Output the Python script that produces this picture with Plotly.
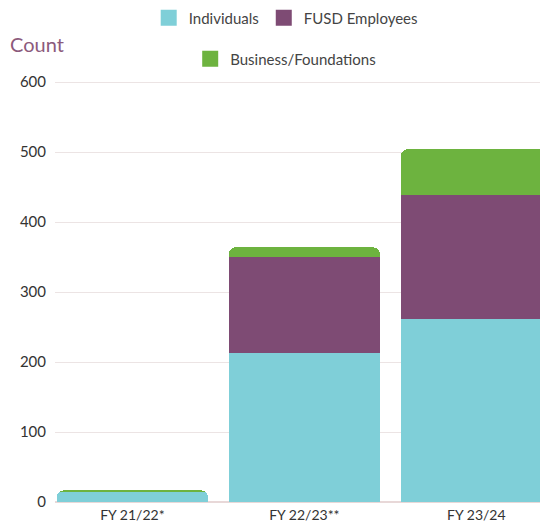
import plotly.graph_objects as go

categories = ["FY 21/22*", "FY 22/23**", "FY 23/24"]
individuals = [14, 213, 261]
fusd_employees = [0, 137, 178]
business_foundations = [3, 14, 65]
y_ticks = [0, 100, 200, 300, 400, 500, 600]

C_IND = "#7fcfd8"
C_EMP = "#7e4b74"
C_BUS = "#6db33f"
FONT = "Lato, 'Open Sans', sans-serif"

fig = go.Figure()
fig.add_bar(x=categories, y=individuals, name="Individuals", marker_color=C_IND,
            marker_line_width=0, showlegend=False)
fig.add_bar(x=categories, y=fusd_employees, name="FUSD Employees", marker_color=C_EMP,
            marker_line_width=0, showlegend=False)
fig.add_bar(x=categories, y=business_foundations, name="Business/Foundations",
            marker_color=C_BUS, marker_line_width=0, showlegend=False)

# legend entries with larger square swatches
for name, col, leg in [("Individuals", C_IND, "legend"),
                       ("FUSD Employees", C_EMP, "legend"),
                       ("Business/Foundations", C_BUS, "legend2")]:
    fig.add_scatter(x=[None], y=[None], mode="markers", name=name, legend=leg,
                    marker=dict(symbol="square", size=16, color=col))

# page has an 8px body margin, so the figure is sized to fit without overflow
fig.update_layout(
    barmode="stack",
    bargap=0.12,
    barcornerradius=7,
    width=532, height=516,
    margin=dict(l=47, r=0, t=67, b=19, autoexpand=False),
    paper_bgcolor="white", plot_bgcolor="white",
    font=dict(family=FONT, size=15, color="#333333"),
    legend=dict(orientation="h", x=0.522, xanchor="center", xref="container",
                y=0.9806, yanchor="middle", yref="container",
                font=dict(size=15, color="#444444"), itemsizing="trace",
                traceorder="normal", bgcolor="rgba(0,0,0,0)"),
    legend2=dict(orientation="h", x=0.522, xanchor="center", xref="container",
                 y=0.901, yanchor="middle", yref="container",
                 font=dict(size=15, color="#444444"), itemsizing="trace",
                 bgcolor="rgba(0,0,0,0)"),
    showlegend=True,
)
fig.add_annotation(text="Count", xref="paper", yref="paper",
                   x=-0.0969, y=1.072, xanchor="left", yanchor="middle",
                   showarrow=False, font=dict(size=20, color="#8c5a7c", family=FONT))

fig.update_xaxes(range=[-0.45, 2.37], showgrid=False, showline=False, ticks="",
                 tickfont=dict(size=14, color="#333333"))
fig.update_yaxes(range=[-4, 610], tickvals=y_ticks, showgrid=True,
                 gridcolor="#ece4e4", gridwidth=1, zeroline=True,
                 zerolinecolor="#e8d8d8", showline=False, ticks="",
                 ticklabelstandoff=8,
                 tickfont=dict(size=15, color="#333333"))

fig.write_html("out.html")
